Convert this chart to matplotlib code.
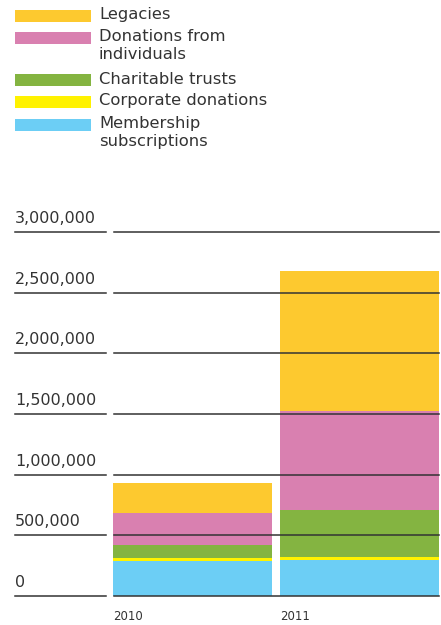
import matplotlib.pyplot as plt
import matplotlib.transforms as mtransforms
from matplotlib.patches import Rectangle

years = ['2010', '2011']
series = ['Membership\nsubscriptions', 'Corporate donations', 'Charitable trusts',
          'Donations from\nindividuals', 'Legacies']
membership = [286000, 297000]
corporate = [25000, 25000]
charitable = [107000, 390000]
individuals = [264000, 816000]
legacies = [247000, 1154000]
colors = ['#6ccef5', '#fff200', '#84b441', '#d980b0', '#fdc92f']
yticks = [0, 500000, 1000000, 1500000, 2000000, 2500000, 3000000]

W, H = 441, 625
fig = plt.figure(figsize=(W / 100, H / 100), dpi=100)
ax = fig.add_axes([113 / W, (H - 596) / H, 326 / W, 364 / H])
ax.set_xlim(-79.5 / 167, 1 + 79.5 / 167)
ax.set_ylim(0, 3000000)
ax.axis('off')

text_col = '#333333'
x = [0, 1]
bottom = [0, 0]
for vals, col in zip([membership, corporate, charitable, individuals, legacies], colors):
    ax.bar(x, vals, width=159 / 167, bottom=bottom, color=col, linewidth=0, zorder=1)
    bottom = [b + v for b, v in zip(bottom, vals)]

# gridlines with labels sitting above a short underline
tr = mtransforms.blended_transform_factory(fig.transFigure, ax.transData)
for t in yticks:
    ax.plot([15 / W, 106 / W], [t, t], transform=tr, color=text_col, lw=1.1,
            clip_on=False, zorder=3)
    ax.plot([114 / W, 439 / W], [t, t], transform=tr, color=text_col, lw=1.1,
            clip_on=False, zorder=3)
    ax.annotate(f'{t:,}', xy=(15 / W, t), xycoords=tr, xytext=(0, 6),
                textcoords='offset pixels', ha='left', va='bottom',
                fontsize=11.5, color=text_col)

# year labels
for xi, yr in zip(x, years):
    ax.annotate(yr, xy=(xi - 79.5 / 167, 0), xycoords='data', xytext=(0, -21),
                textcoords='offset pixels', ha='left', va='center',
                fontsize=8.5, color=text_col)

# legend at top
legend_rows = [('Legacies', colors[4], 16),
               ('Donations from\nindividuals', colors[3], 37.5),
               ('Charitable trusts', colors[2], 80),
               ('Corporate donations', colors[1], 101.5),
               ('Membership\nsubscriptions', colors[0], 124.5)]
for label, col, yc in legend_rows:
    fig.patches.append(Rectangle((15 / W, (H - yc - 6) / H), 76 / W, 12 / H,
                                 transform=fig.transFigure, color=col, lw=0))
    fig.text(99 / W, (H - yc + 8.5) / H, label, ha='left', va='top',
             fontsize=11.8, color=text_col, linespacing=1.25)

fig.savefig('out.png', dpi=100)
